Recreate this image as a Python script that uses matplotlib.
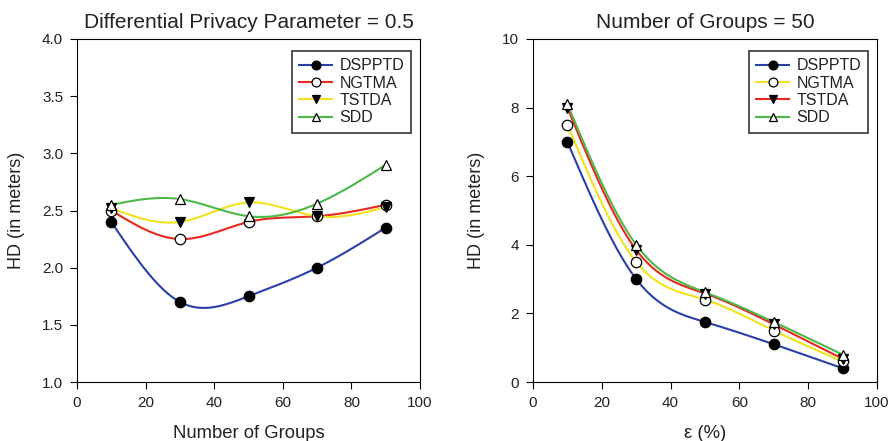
import numpy as np
import matplotlib.pyplot as plt

# x positions shared by both panels
x = [10, 30, 50, 70, 90]

# left panel: HD vs number of groups (epsilon = 0.5)
left_dsp = [2.40, 1.70, 1.75, 2.00, 2.35]
left_ngt = [2.50, 2.25, 2.40, 2.45, 2.55]
left_tst = [2.52, 2.40, 2.57, 2.45, 2.53]
left_sdd = [2.55, 2.60, 2.45, 2.56, 2.90]

# right panel: HD vs epsilon (groups = 50)
right_dsp = [7.00, 3.00, 1.75, 1.10, 0.40]
right_ngt = [7.50, 3.50, 2.40, 1.50, 0.60]
right_tst = [8.00, 3.85, 2.58, 1.68, 0.68]
right_sdd = [8.10, 4.00, 2.62, 1.75, 0.80]


def spline(xs, ys, n=200):
    # natural cubic spline, used only to draw the smooth connecting line
    xs = np.asarray(xs, float)
    ys = np.asarray(ys, float)
    k = len(xs)
    h = np.diff(xs)
    A = np.zeros((k, k))
    b = np.zeros(k)
    A[0, 0] = A[-1, -1] = 1
    for i in range(1, k - 1):
        A[i, i - 1] = h[i - 1]
        A[i, i] = 2 * (h[i - 1] + h[i])
        A[i, i + 1] = h[i]
        b[i] = 6 * ((ys[i + 1] - ys[i]) / h[i] - (ys[i] - ys[i - 1]) / h[i - 1])
    m = np.linalg.solve(A, b)
    xx = np.linspace(xs[0], xs[-1], n)
    idx = np.clip(np.searchsorted(xs, xx) - 1, 0, k - 2)
    x0, x1 = xs[idx], xs[idx + 1]
    hh = x1 - x0
    t0, t1 = x1 - xx, xx - x0
    yy = (m[idx] * t0**3 + m[idx + 1] * t1**3) / (6 * hh) \
        + (ys[idx] / hh - m[idx] * hh / 6) * t0 \
        + (ys[idx + 1] / hh - m[idx + 1] * hh / 6) * t1
    return xx, yy


blue = '#2b3fa8'
red = '#e8281e'
yellow = '#f2e21c'
green = '#4cb848'
txt = '#222222'

styles = {
    'DSPPTD': dict(marker='o', mfc='black', mec='black'),
    'NGTMA': dict(marker='o', mfc='white', mec='black'),
    'TSTDA': dict(marker='v', mfc='black', mec='black'),
    'SDD': dict(marker='^', mfc='white', mec='black'),
}

plt.rcParams['font.family'] = ['Liberation Sans', 'DejaVu Sans']
plt.rcParams['text.color'] = txt
plt.rcParams['axes.labelcolor'] = txt
fig = plt.figure(figsize=(8.94, 4.41), dpi=100)
ax1 = fig.add_axes([77 / 894, 1 - 382 / 441, 343 / 894, 343 / 441])
ax2 = fig.add_axes([533 / 894, 1 - 382 / 441, 344 / 894, 343 / 441])


def draw(ax, series):
    for name, ys, col in series:
        xx, yy = spline(x, ys)
        ax.plot(xx, yy, color=col, lw=1.5, zorder=2)
        ax.plot(x, ys, ls='none', ms=7.5, mew=0.9, zorder=3, **styles[name])
        ax.plot([], [], color=col, lw=1.5, ms=7.5, mew=0.9, label=name, **styles[name])
    ax.tick_params(direction='out', labelsize=11, length=5, pad=5,
                   top=False, right=False, labelcolor=txt)
    leg = ax.legend(loc='upper right', fontsize=11.5, frameon=True, fancybox=False,
                    edgecolor='#333333', framealpha=1, handlelength=2.1,
                    borderpad=0.45, labelspacing=0.15, handletextpad=0.45,
                    markerscale=0.85, borderaxespad=0,
                    bbox_to_anchor=(0.975, 0.965))
    leg.get_frame().set_linewidth(1.2)


draw(ax1, [('DSPPTD', left_dsp, blue), ('NGTMA', left_ngt, red),
           ('TSTDA', left_tst, yellow), ('SDD', left_sdd, green)])
ax1.set_xlim(0, 100)
ax1.set_ylim(1.0, 4.0)
ax1.set_xticks(range(0, 101, 20))
ax1.set_yticks(np.arange(1.0, 4.01, 0.5))
ax1.set_yticklabels(['%.1f' % v for v in np.arange(1.0, 4.01, 0.5)])
ax1.set_xlabel('Number of Groups', fontsize=13.3, labelpad=11)
ax1.set_ylabel('HD (in meters)', fontsize=13, labelpad=12)
ax1.set_title('Differential Privacy Parameter = 0.5', fontsize=15, pad=8)

draw(ax2, [('DSPPTD', right_dsp, blue), ('NGTMA', right_ngt, yellow),
           ('TSTDA', right_tst, red), ('SDD', right_sdd, green)])
ax2.set_xlim(0, 100)
ax2.set_ylim(0, 10)
ax2.set_xticks(range(0, 101, 20))
ax2.set_yticks(range(0, 11, 2))
ax2.set_xlabel('ε (%)', fontsize=13.3, labelpad=11)
ax2.set_ylabel('HD (in meters)', fontsize=13, labelpad=12)
ax2.set_title('Number of Groups = 50', fontsize=15, pad=8)

fig.savefig('out.png', dpi=100)
